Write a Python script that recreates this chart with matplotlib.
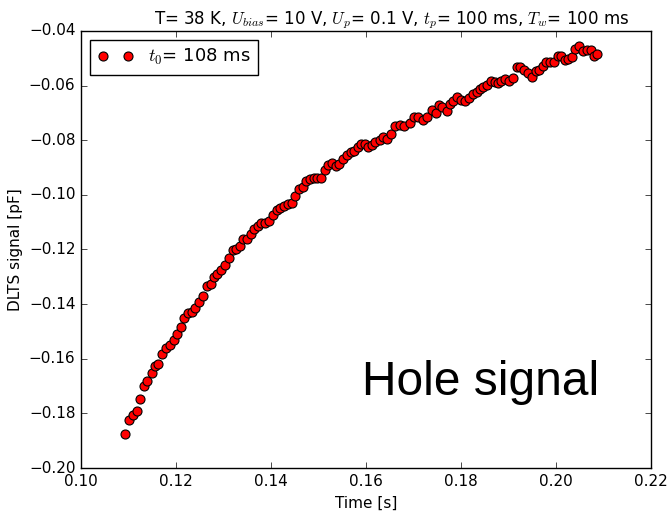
import matplotlib
matplotlib.use('Agg')
import matplotlib.pyplot as plt

# time [s] and DLTS signal [pF]
time_s = [0.1093, 0.1101, 0.1110, 0.1117, 0.1124, 0.1133, 0.1140, 0.1149, 0.1156, 0.1163,
          0.1171, 0.1179, 0.1187, 0.1195, 0.1203, 0.1211, 0.1217, 0.1225, 0.1234, 0.1241,
          0.1249, 0.1257, 0.1265, 0.1273, 0.1280, 0.1287, 0.1295, 0.1303, 0.1311, 0.1319,
          0.1326, 0.1334, 0.1342, 0.1349, 0.1357, 0.1365, 0.1373, 0.1380, 0.1388, 0.1396,
          0.1404, 0.1412, 0.1420, 0.1427, 0.1435, 0.1444, 0.1451, 0.1458, 0.1467, 0.1474,
          0.1482, 0.1491, 0.1497, 0.1505, 0.1514, 0.1521, 0.1529, 0.1537, 0.1544, 0.1552,
          0.1559, 0.1568, 0.1575, 0.1583, 0.1589, 0.1598, 0.1605, 0.1613, 0.1620, 0.1629,
          0.1636, 0.1645, 0.1653, 0.1661, 0.1672, 0.1680, 0.1693, 0.1701, 0.1710, 0.1719,
          0.1729, 0.1738, 0.1747, 0.1754, 0.1761, 0.1770, 0.1777, 0.1784, 0.1792, 0.1801,
          0.1808, 0.1817, 0.1825, 0.1833, 0.1840, 0.1847, 0.1854, 0.1863, 0.1871, 0.1877,
          0.1884, 0.1893, 0.1901, 0.1910, 0.1917, 0.1925, 0.1933, 0.1942, 0.1949, 0.1957,
          0.1964, 0.1972, 0.1979, 0.1987, 0.1996, 0.2004, 0.2011, 0.2019, 0.2026, 0.2034,
          0.2041, 0.2049, 0.2057, 0.2066, 0.2074, 0.2081, 0.2087]
signal_pf = [-0.1876, -0.1824, -0.1805, -0.1790, -0.1748, -0.1699, -0.1680, -0.1651, -0.1627, -0.1620,
             -0.1583, -0.1561, -0.1550, -0.1531, -0.1508, -0.1483, -0.1452, -0.1431, -0.1429, -0.1413,
             -0.1391, -0.1369, -0.1334, -0.1325, -0.1300, -0.1290, -0.1275, -0.1256, -0.1230, -0.1203,
             -0.1197, -0.1187, -0.1163, -0.1162, -0.1144, -0.1126, -0.1113, -0.1102, -0.1104, -0.1095,
             -0.1075, -0.1055, -0.1048, -0.1040, -0.1033, -0.1031, -0.1004, -0.0979, -0.0972, -0.0949,
             -0.0943, -0.0939, -0.0939, -0.0937, -0.0909, -0.0890, -0.0884, -0.0894, -0.0887, -0.0870,
             -0.0855, -0.0844, -0.0838, -0.0826, -0.0815, -0.0815, -0.0824, -0.0816, -0.0805, -0.0799,
             -0.0787, -0.0797, -0.0778, -0.0747, -0.0746, -0.0749, -0.0738, -0.0714, -0.0714, -0.0726,
             -0.0714, -0.0689, -0.0701, -0.0671, -0.0677, -0.0693, -0.0668, -0.0655, -0.0643, -0.0653,
             -0.0655, -0.0644, -0.0631, -0.0622, -0.0613, -0.0606, -0.0598, -0.0583, -0.0586, -0.0591,
             -0.0583, -0.0576, -0.0583, -0.0573, -0.0533, -0.0531, -0.0544, -0.0555, -0.0567, -0.0545,
             -0.0543, -0.0528, -0.0515, -0.0512, -0.0512, -0.0490, -0.0490, -0.0507, -0.0503, -0.0496,
             -0.0466, -0.0456, -0.0472, -0.0470, -0.0470, -0.0490, -0.0485]

x_ticks = [0.10, 0.12, 0.14, 0.16, 0.18, 0.20, 0.22]
y_ticks = [-0.20, -0.18, -0.16, -0.14, -0.12, -0.10, -0.08, -0.06, -0.04]

plt.style.use('classic')
plt.rcParams['font.family'] = 'DejaVu Sans'

fig = plt.figure(figsize=(6.7, 5.13), dpi=100, facecolor='white')
ax = fig.add_axes([0.1209, 0.0877, 0.8507, 0.8519])

ax.plot(time_s, signal_pf, 'o', color='red', markeredgecolor='black',
        markersize=6.5, markeredgewidth=0.8, label='$t_0$= 108 ms')

ax.set_xlim(0.10, 0.22)
ax.set_ylim(-0.20, -0.04)
ax.set_xticks(x_ticks)
ax.set_yticks(y_ticks)
ax.tick_params(labelsize=11)

ax.set_xlabel('Time [s]', fontsize=11)
ax.set_ylabel('DLTS signal [pF]', fontsize=11, labelpad=4)
ax.set_title('T= 38 K, $U_{bias}$= 10 V, $U_p$= 0.1 V, $t_p$= 100 ms, $T_w$= 100 ms',
             fontsize=12, x=0.545)

ax.legend(loc='upper left', numpoints=2, fontsize=13)
ax.text(0.493, 0.195, 'Hole signal', transform=ax.transAxes,
        fontsize=34.5, ha='left', va='center', family='Liberation Sans')

fig.savefig('out.png', dpi=100, facecolor='white')
